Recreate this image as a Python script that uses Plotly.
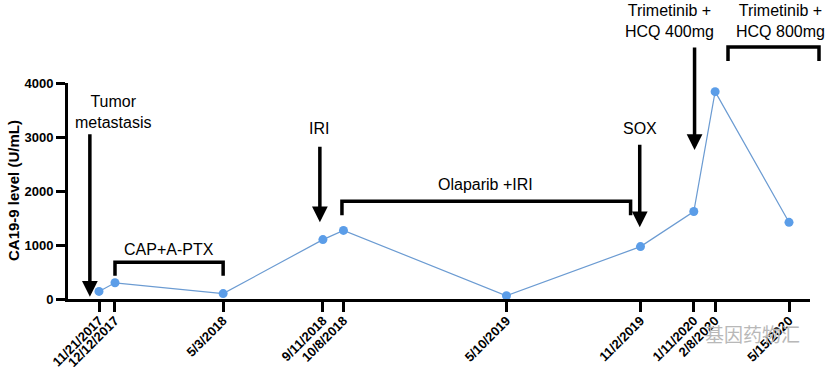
import plotly.graph_objects as go
import pandas as pd

# ---------------- data ----------------
dates = ["2017-11-21", "2017-12-12", "2018-05-03", "2018-09-11", "2018-10-08",
         "2019-05-10", "2019-11-02", "2020-01-11", "2020-02-08", "2020-05-15"]
tick_labels = ["11/21/2017", "12/12/2017", "5/3/2018", "9/11/2018", "10/8/2018",
               "5/10/2019", "11/2/2019", "1/11/2020", "2/8/2020", "5/15/2020"]
ca199 = [140, 300, 100, 1100, 1270, 60, 970, 1620, 3840, 1420]
y_ticks = [0, 1000, 2000, 3000, 4000]

# treatment events (arrows): date, tip value, tail offset in px
arrow_dates = ["2017-11-09", "2018-09-07", "2019-11-01", "2020-01-12"]
arrow_tips = [40, 1420, 1330, 2760]
arrow_len = [-164, -77, -84, -104]

# ---------------- layout geometry ----------------
W, H = 829, 367
L, R, T, B = 68, 19, 83, 68
PW, PH = W - L - R, H - T - B


def px_x(p):
    return (p - L) / PW


def px_y(p):
    return (H - B - p) / PH


d0 = pd.Timestamp(dates[0])
d_last = pd.Timestamp(dates[-1])
px_per_day = 690 / (d_last - d0).days
x_start = d0 - pd.Timedelta(days=31 / px_per_day)
x_end = d0 + pd.Timedelta(days=(810 - 99) / px_per_day)

FONT = "Liberation Sans, Arial, sans-serif"

fig = go.Figure()
fig.add_trace(go.Scatter(
    x=dates, y=ca199, mode="lines+markers",
    line=dict(color="#6b9bd2", width=1.2),
    marker=dict(color="#5b9de8", size=9, line=dict(width=0)),
    cliponaxis=False, showlegend=False,
))

annotations = []
# arrows
for d, v, a in zip(arrow_dates, arrow_tips, arrow_len):
    annotations.append(dict(
        x=d, y=v, xref="x", yref="y", ax=0, ay=a, axref="pixel", ayref="pixel",
        showarrow=True, arrowhead=2, arrowwidth=3.5, arrowsize=0.9,
        arrowcolor="black", standoff=0, text="",
    ))

# text labels
labels = [
    ("Tumor<br>metastasis", 113, 112),
    ("CAP+A-PTX", 169, 249),
    ("IRI", 319, 128),
    ("Olaparib +IRI", 485, 184),
    ("SOX", 640, 128),
    ("Trimetinib +<br>HCQ 400mg", 669, 21),
    ("Trimetinib +<br>HCQ 800mg", 780, 21),
]
for txt, x, y in labels:
    annotations.append(dict(
        text=txt, x=px_x(x), y=px_y(y), xref="paper", yref="paper",
        xanchor="center", yanchor="middle", showarrow=False,
        font=dict(family=FONT, size=16, color="black"),
    ))

# y axis title
annotations.append(dict(
    text="CA19-9 level (U/mL)", x=px_x(13), y=px_y(191), xref="paper", yref="paper",
    xanchor="center", yanchor="middle", showarrow=False, textangle=-90,
    font=dict(family=FONT, size=15, color="black", weight="bold"),
))

# watermark
annotations.append(dict(
    text="基因药物汇", x=px_x(752), y=px_y(333), xref="paper", yref="paper",
    xanchor="center", yanchor="middle", showarrow=False,
    font=dict(family="Noto Sans CJK SC", size=19, color="#b8b8b8"),
))


# brackets
def bracket_data(x0, x1, ytop, yleg):
    return dict(type="path", xref="x", yref="y",
                path=f"M {x0},{yleg} L {x0},{ytop} L {x1},{ytop} L {x1},{yleg}",
                line=dict(color="black", width=3.5))


shapes = [
    bracket_data("2017-12-12", "2018-05-03", 680, 430),
    bracket_data("2018-10-06", "2019-10-20", 1810, 1550),
    dict(type="path", xref="paper", yref="paper",
         path=(f"M {px_x(728)},{px_y(61)} L {px_x(728)},{px_y(47)} "
               f"L {px_x(819)},{px_y(47)} L {px_x(819)},{px_y(61)}"),
         line=dict(color="black", width=3.5)),
]

fig.update_layout(
    width=W, height=H,
    margin=dict(l=L, r=R, t=T, b=B, pad=0),
    paper_bgcolor="white", plot_bgcolor="white",
    annotations=annotations, shapes=shapes,
    xaxis=dict(
        type="date", range=[x_start, x_end],
        tickvals=dates, ticktext=tick_labels, tickangle=-45,
        ticks="outside", ticklen=10, tickwidth=3, tickcolor="black",
        ticklabelstandoff=-4,
        showline=True, linewidth=3, linecolor="black",
        showgrid=False, zeroline=False, automargin=False,
        tickfont=dict(family=FONT, size=13, color="black", weight="bold"),
    ),
    yaxis=dict(
        range=[0, 4000], tickvals=y_ticks,
        ticks="outside", ticklen=9, tickwidth=3, tickcolor="black",
        showline=True, linewidth=3, linecolor="black",
        showgrid=False, zeroline=False, automargin=False,
        tickfont=dict(family=FONT, size=13, color="black", weight="bold"),
    ),
)

fig.write_html(
    "out.html",
    config={"displayModeBar": False},
    post_script="document.body.style.margin='0px';document.body.style.overflow='hidden';",
)
